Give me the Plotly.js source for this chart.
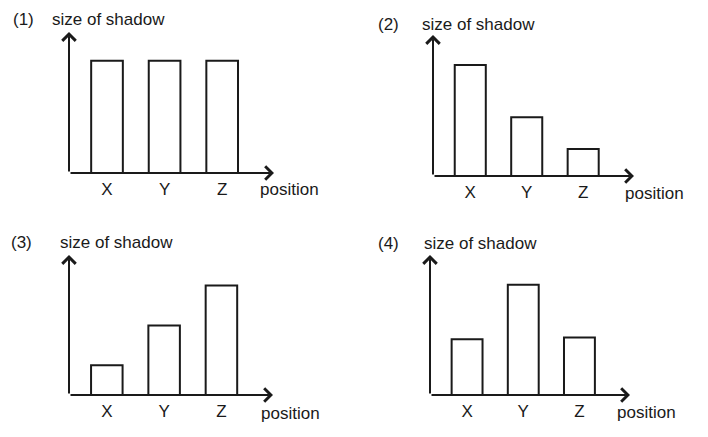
<!DOCTYPE html>
<html>
<head>
<meta charset="utf-8">
<script src="https://cdn.plot.ly/plotly-3.0.1.min.js"></script>
<style>html,body{margin:0;padding:0;background:#fff;}#chart{width:708px;height:437px;}</style>
</head>
<body>
<div id="chart"></div>
<script>
// Data
const categories = ['X', 'Y', 'Z'];
const panelLabels = ['(1)', '(2)', '(3)', '(4)'];
const yTitle = 'size of shadow';
const xTitle = 'position';
const shadow1 = [4.0, 4.0, 4.0];
const shadow2 = [3.96, 2.1, 0.96];
const shadow3 = [1.07, 2.5, 3.93];
const shadow4 = [2.0, 3.96, 2.07];

const series = [shadow1, shadow2, shadow3, shadow4];
const W = 708, H = 437;
// plot areas in pixels: [left, right, bottom, top]
const boxes = [
  [69, 274, 173, 32],
  [433, 634, 176, 35],
  [69, 273, 395, 255],
  [430, 630, 395, 255]
];
const labelPos = [ // [panel label x, title x, title y]
  [11, 50, 20],
  [376, 420, 24],
  [9, 58, 242],
  [376, 422, 243]
];
const posLabel = [[258, 190], [623, 193], [259, 413], [615, 412]];

const ink = '#1a1a1a';
const font = {family: 'Liberation Sans, Arial, sans-serif', size: 17, color: ink};
const traces = [];
const layout = {
  width: W, height: H,
  margin: {l: 0, r: 0, t: 0, b: 0},
  paper_bgcolor: '#fff', plot_bgcolor: 'rgba(0,0,0,0)',
  showlegend: false,
  font: font,
  annotations: [],
  bargap: 0
};

series.forEach((vals, i) => {
  const n = i + 1;
  const xa = 'x' + (n === 1 ? '' : n), ya = 'y' + (n === 1 ? '' : n);
  const xk = 'xaxis' + (n === 1 ? '' : n), yk = 'yaxis' + (n === 1 ? '' : n);
  const b = boxes[i];
  traces.push({
    type: 'bar', x: categories, y: vals, xaxis: xa, yaxis: ya,
    width: 0.55,
    marker: {color: '#fff', line: {color: ink, width: 2}},
    hoverinfo: 'skip'
  });
  layout[xk] = {
    domain: [b[0] / W, b[1] / W], anchor: ya,
    type: 'category', range: [-0.66, 2.9],
    showgrid: false, zeroline: false, showline: false,
    ticks: '', ticklabelstandoff: 4,
    tickfont: font, fixedrange: true
  };
  layout[yk] = {
    domain: [1 - b[2] / H, 1 - b[3] / H], anchor: xa,
    range: [0, 5.03], showgrid: false, zeroline: false, showline: false,
    showticklabels: false, ticks: '', fixedrange: true
  };
  const xd = xa + ' domain', yd = ya + ' domain';
  // axis arrows
  layout.annotations.push({
    xref: xd, yref: yd, axref: xd, ayref: yd,
    x: 1, y: 0, ax: 0, ay: 0, text: '', showarrow: true,
    arrowhead: 4, arrowsize: 1.3, arrowwidth: 2, arrowcolor: ink, standoff: 0
  });
  layout.annotations.push({
    xref: xd, yref: yd, axref: xd, ayref: yd,
    x: 0, y: 1, ax: 0, ay: 0, text: '', showarrow: true,
    arrowhead: 4, arrowsize: 1.3, arrowwidth: 2, arrowcolor: ink, standoff: 0
  });
  const lp = labelPos[i];
  layout.annotations.push({
    xref: 'paper', yref: 'paper', x: lp[0] / W, y: 1 - lp[2] / H,
    xanchor: 'left', yanchor: 'middle', text: panelLabels[i], showarrow: false, font: font
  });
  layout.annotations.push({
    xref: 'paper', yref: 'paper', x: lp[1] / W, y: 1 - lp[2] / H,
    xanchor: 'left', yanchor: 'middle', text: yTitle, showarrow: false, font: font
  });
  const pl = posLabel[i];
  layout.annotations.push({
    xref: 'paper', yref: 'paper', x: pl[0] / W, y: 1 - pl[1] / H,
    xanchor: 'left', yanchor: 'middle', text: xTitle, showarrow: false, font: font
  });
});

Plotly.newPlot('chart', traces, layout, {staticPlot: true, displayModeBar: false});
</script>
</body>
</html>
